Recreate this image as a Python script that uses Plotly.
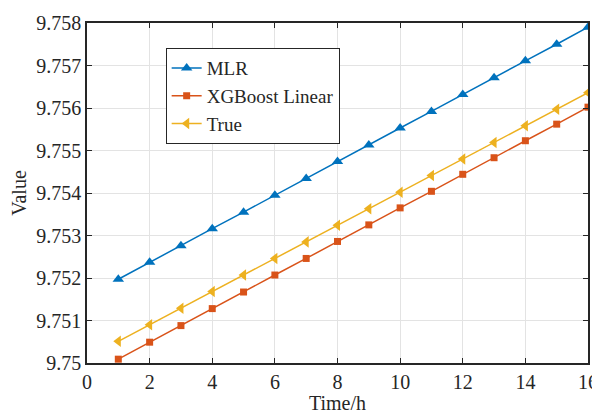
import plotly.graph_objects as go

# Data
hours = list(range(1, 17))
mlr = [9.75197, 9.75237, 9.75276, 9.75316, 9.75355, 9.75395, 9.75434, 9.75474,
       9.75513, 9.75553, 9.75592, 9.75632, 9.75671, 9.75711, 9.75750, 9.75790]
xgb_linear = [9.75009, 9.75049, 9.75088, 9.75128, 9.75167, 9.75207, 9.75246, 9.75286,
              9.75325, 9.75365, 9.75404, 9.75444, 9.75483, 9.75523, 9.75562, 9.75602]
true_vals = [9.75051, 9.75090, 9.75129, 9.75168, 9.75207, 9.75246, 9.75285, 9.75324,
             9.75363, 9.75402, 9.75441, 9.75480, 9.75519, 9.75558, 9.75597, 9.75636]

y_ticks = [9.750, 9.751, 9.752, 9.753, 9.754, 9.755, 9.756, 9.757, 9.758]
y_labels = ['9.75', '9.751', '9.752', '9.753', '9.754', '9.755', '9.756', '9.757', '9.758']
x_ticks = [0, 2, 4, 6, 8, 10, 12, 14, 16]

fig = go.Figure()
fig.add_trace(go.Scatter(x=hours, y=mlr, name='MLR', mode='lines+markers',
                         line=dict(color='#0072BD', width=1.5),
                         marker=dict(symbol='triangle-up', size=10, color='#0072BD')))
fig.add_trace(go.Scatter(x=hours, y=xgb_linear, name='XGBoost Linear', mode='lines+markers',
                         line=dict(color='#D95319', width=1.5),
                         marker=dict(symbol='square', size=7, color='#D95319')))
fig.add_trace(go.Scatter(x=hours, y=true_vals, name='True', mode='lines+markers',
                         line=dict(color='#EDB120', width=1.5),
                         marker=dict(symbol='triangle-left', size=10, color='#EDB120')))

axis_style = dict(showline=True, linecolor='#262626', linewidth=1.5, mirror='ticks',
                  ticks='inside', ticklen=5, tickcolor='#262626', automargin=False,
                  showgrid=True, gridcolor='#e3e3e3', gridwidth=1, zeroline=False,
                  tickfont=dict(size=20, color='#262626'))

fig.update_xaxes(range=[0, 16], tickvals=x_ticks,
                 title=dict(text='Time/h', font=dict(size=20, color='#262626'), standoff=2),
                 **axis_style)
fig.update_yaxes(range=[9.75, 9.758], tickvals=y_ticks, ticktext=y_labels,
                 title=dict(text='Value', font=dict(size=20, color='#262626'), standoff=4),
                 **axis_style)

# the page body adds an 8px offset, so the figure is a bit smaller
fig.update_layout(
    width=592, height=406,
    margin=dict(l=79, r=12, t=15, b=51),
    paper_bgcolor='white', plot_bgcolor='white',
    font=dict(family='Liberation Serif, Times New Roman, serif', color='#262626'),
    legend=dict(x=0.157, y=0.926, xanchor='left', yanchor='top',
                bgcolor='white', bordercolor='#262626', borderwidth=1,
                font=dict(size=19), tracegroupgap=0, itemwidth=30),
    showlegend=True,
)

fig.write_html("out.html")
